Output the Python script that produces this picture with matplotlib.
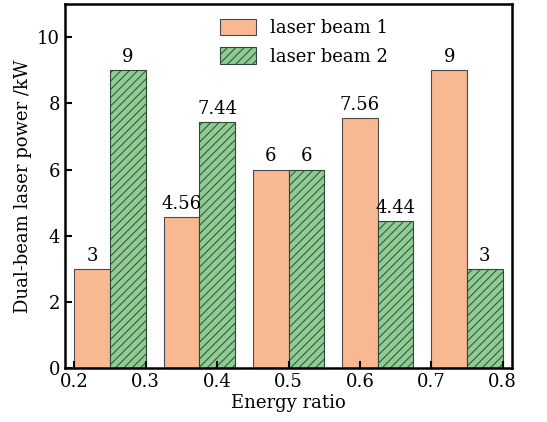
import numpy as np
import matplotlib.pyplot as plt

plt.rcParams['font.family'] = ['DejaVu Serif']
plt.rcParams['hatch.linewidth'] = 0.7
plt.rcParams['hatch.color'] = '#2f4a33'

# energy ratio groups and power of each beam (kW)
centers = [0.25, 0.375, 0.5, 0.625, 0.75]
beam1 = [3, 4.56, 6, 7.56, 9]
beam2 = [9, 7.44, 6, 4.44, 3]
labels1 = ['3', '4.56', '6', '7.56', '9']
labels2 = ['9', '7.44', '6', '4.44', '3']

w = 0.05
x = np.array(centers)

fig = plt.figure(figsize=(5.47, 4.22), dpi=100)
ax = fig.add_axes([0.119, 0.128, 0.817, 0.862])

b1 = ax.bar(x - w / 2, beam1, w, color='#f8b992', edgecolor='#4a4a4a', linewidth=0.8,
            label='laser beam 1')
b2 = ax.bar(x + w / 2, beam2, w, color='#8fcc95', edgecolor='#2f4a33', linewidth=0.8,
            hatch='////', label='laser beam 2')

ax.bar_label(b1, labels=labels1, padding=3, fontsize=13)
ax.bar_label(b2, labels=labels2, padding=3, fontsize=13)

ax.set_xlim(0.187, 0.813)
ax.set_ylim(0, 11)
ax.set_xticks([0.2, 0.3, 0.4, 0.5, 0.6, 0.7, 0.8])
ax.set_yticks([0, 2, 4, 6, 8, 10])
ax.tick_params(direction='in', length=5, width=1.5, labelsize=13)
for s in ax.spines.values():
    s.set_linewidth(1.8)

ax.set_xlabel('Energy ratio', fontsize=13, labelpad=2)
ax.set_ylabel('Dual-beam laser power /kW', fontsize=13, labelpad=4)

ax.legend(loc='upper center', bbox_to_anchor=(0.535, 1.0), frameon=False, fontsize=13,
          handlelength=2.0, handleheight=1.05, borderaxespad=0.4, labelspacing=0.55)

plt.savefig('out.png', dpi=100)
